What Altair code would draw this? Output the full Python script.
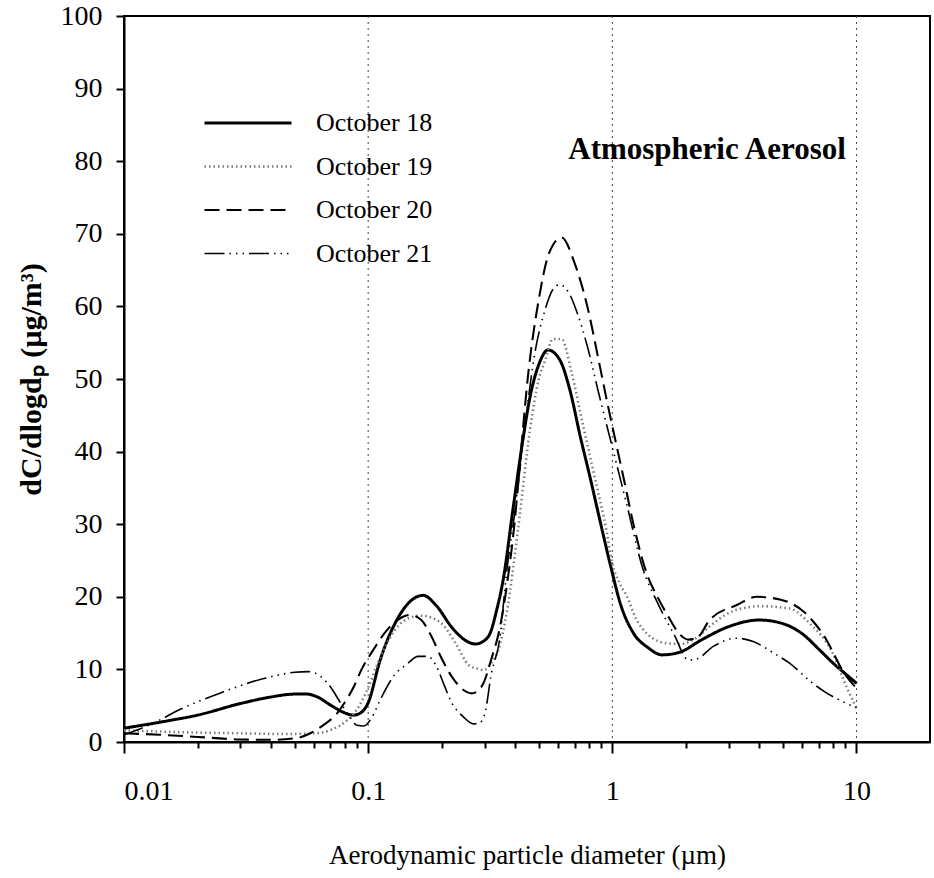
import altair as alt
import pandas as pd

series = ["October 18", "October 19", "October 20", "October 21"]
colors = ["#000000", "#7a7a7a", "#000000", "#000000"]
dashes = [[1, 0], [1.5, 3], [15, 7], [20, 5, 1.5, 5, 1.5, 5, 1.5, 5]]
widths = [3, 1.6, 3, 3]

# October 18 (solid)
x18 = [0.01, 0.015, 0.02, 0.03, 0.04, 0.05, 0.056, 0.062, 0.07, 0.079, 0.087, 0.093, 0.1,
       0.112, 0.131, 0.149, 0.168, 0.19, 0.22, 0.25, 0.275, 0.3, 0.316, 0.335, 0.357, 0.393,
       0.43, 0.46, 0.5, 0.545, 0.61, 0.67, 0.74, 0.81, 0.89, 0.98, 1.08, 1.22, 1.4, 1.6, 1.9,
       2.3, 3.0, 4.0, 5.0, 6.0, 7.1, 8.0, 9.0, 10.0]
y18 = [1.9, 2.9, 3.7, 5.3, 6.2, 6.6, 6.6, 6.2, 5.1, 4.1, 3.7, 4.0, 5.4,
       11.3, 16.8, 19.4, 20.2, 18.8, 15.8, 14.0, 13.5, 14.0, 15.0, 18.0, 22.3, 32.4,
       41.6, 47.5, 52.0, 54.0, 52.6, 48.5, 42.0, 36.5, 30.5, 24.5, 19.0, 15.0, 13.0, 12.0, 12.4,
       14.0, 15.9, 16.8, 16.3, 14.9, 12.6, 10.9, 9.4, 8.1]

# October 19 (dotted)
x19 = [0.01, 0.02, 0.03, 0.045, 0.06, 0.072, 0.082, 0.092, 0.1, 0.11, 0.125, 0.145, 0.165,
       0.197, 0.228, 0.258, 0.28, 0.297, 0.325, 0.34, 0.37, 0.41, 0.46, 0.5, 0.53, 0.57, 0.62,
       0.68, 0.76, 0.84, 0.95, 1.0, 1.07, 1.15, 1.25, 1.4, 1.67, 1.9, 2.2, 2.5, 2.9, 3.5, 4.05,
       5.3, 6.4, 8.0, 9.1, 10.0]
y19 = [1.6, 1.3, 1.2, 1.1, 1.2, 1.8, 3.0, 5.0, 7.5, 11.0, 14.8, 17.0, 17.4,
       16.5, 13.6, 10.6, 10.1, 9.9, 11.3, 12.5, 18.0, 29.0, 43.0, 50.0, 52.5, 55.5, 55.5,
       51.0, 43.5, 37.0, 28.8, 24.6, 21.9, 20.0, 17.0, 14.8, 13.6, 13.5, 14.3, 15.9, 17.5, 18.5, 18.7,
       18.4, 16.4, 12.2, 7.6, 4.7]

# October 20 (dashed)
x20 = [0.01, 0.014, 0.02, 0.03, 0.04, 0.05, 0.058, 0.066, 0.074, 0.08, 0.087, 0.094, 0.105,
       0.118, 0.132, 0.148, 0.165, 0.18, 0.2, 0.22, 0.245, 0.265, 0.285, 0.3, 0.32, 0.345,
       0.37, 0.4, 0.42, 0.45, 0.5, 0.55, 0.62, 0.7, 0.79, 0.88, 0.95, 1.0, 1.11, 1.23, 1.39, 1.53,
       1.7, 1.85, 2.05, 2.25, 2.5, 3.25, 3.9, 4.9, 6.1, 7.4, 8.9, 10.0]
y20 = [1.2, 1.0, 0.7, 0.35, 0.3, 0.5, 1.2, 2.4, 3.8, 5.4, 7.5, 10.0, 12.7,
       15.2, 16.8, 17.5, 16.8, 14.8, 11.5, 9.0, 7.2, 6.7, 7.2, 8.5, 11.5, 15.5,
       21.6, 31.0, 39.0, 50.0, 61.0, 67.3, 69.5, 66.0, 60.0, 52.5, 47.0, 43.5, 36.5, 29.5, 23.0, 20.0,
       17.2, 15.2, 14.1, 14.5, 16.8, 18.9, 20.0, 19.6, 17.9, 14.5, 9.5, 7.4]

# October 21 (dash-dot-dot)
x21 = [0.01, 0.013, 0.017, 0.025, 0.037, 0.05, 0.057, 0.064, 0.07, 0.077, 0.084, 0.09, 0.096,
       0.104, 0.112, 0.128, 0.145, 0.16, 0.175, 0.19, 0.205, 0.22, 0.245, 0.27, 0.285, 0.3,
       0.32, 0.345, 0.37, 0.4, 0.43, 0.48, 0.53, 0.57, 0.61, 0.66, 0.72, 0.79, 0.88, 1.0, 1.15,
       1.33, 1.53, 1.79, 2.05, 2.2, 2.6, 3.2, 3.8, 4.6, 5.3, 6.5, 7.5, 8.5, 10.0]
y21 = [1.0, 2.5, 4.5, 6.8, 8.7, 9.6, 9.7, 9.0, 7.6, 5.4, 3.5, 2.3, 2.2,
       3.5, 5.8, 9.2, 10.8, 11.8, 11.8, 10.5, 7.8, 5.4, 3.5, 2.5, 2.6, 3.8,
       9.5, 14.0, 23.7, 32.0, 41.0, 53.3, 59.5, 62.3, 63.0, 62.0, 59.0, 54.5, 48.0, 40.6, 32.5,
       24.0, 19.2, 14.8, 11.3, 11.4, 13.2, 14.3, 13.8, 12.2, 10.9, 8.3, 6.8, 5.8, 4.7]

major_ticks = [0.01, 0.1, 1, 10]
minor_ticks = [0.02, 0.03, 0.04, 0.05, 0.06, 0.07, 0.08, 0.09,
               0.2, 0.3, 0.4, 0.5, 0.6, 0.7, 0.8, 0.9,
               2, 3, 4, 5, 6, 7, 8, 9]
grid_lines = [0.1, 1, 10]
y_ticks = [0, 10, 20, 30, 40, 50, 60, 70, 80, 90, 100]

rows = []
for name, xs, ys in zip(series, [x18, x19, x20, x21], [y18, y19, y20, y21]):
    for a, b in zip(xs, ys):
        rows.append({"series": name, "d": a, "c": b})
df = pd.DataFrame(rows)

annot = pd.DataFrame({"d": [0.66], "c": [81.5], "t": ["Atmospheric Aerosol"]})
grid_df = pd.DataFrame({"d": grid_lines})

FONT = "Liberation Serif"
xscale = alt.Scale(type="log", domain=[0.01, 20], nice=False)
yscale = alt.Scale(domain=[0, 100], nice=False, zero=False)

legend = alt.Legend(
    title=None, orient="none", legendX=79, legendY=92, symbolType="stroke",
    symbolSize=7569, clipHeight=30, rowPadding=13.5, labelFont=FONT,
    labelFontSize=26, labelColor="black", labelOffset=23, padding=0, labelLimit=400,
)

xaxis = alt.Axis(
    values=major_ticks, title="Aerodynamic particle diameter (µm)", format="~g",
    tickSize=11, grid=False, orient="bottom",
    labelPadding=24, titlePadding=37, labelFontSize=28, titleFontSize=27,
    titleFontWeight="normal",
)
xaxis_minor = alt.Axis(
    values=minor_ticks, title=None, labels=False, tickSize=6, grid=False,
    domain=False, orient="bottom",
)
yaxis = alt.Axis(
    values=y_ticks, title="dC/dlogdₚ (µg/m³)", grid=False, tickSize=8,
    labelPadding=14, titlePadding=14, labelFontSize=28, titleFontSize=30,
    titleFontWeight="bold", orient="left",
)

grid = alt.Chart(grid_df).mark_rule(
    color="#444444", strokeWidth=1, strokeDash=[2, 4]
).encode(
    x=alt.X("d:Q", scale=xscale, axis=xaxis_minor),
)

lines = alt.Chart(df).mark_line(interpolate="monotone").encode(
    x=alt.X("d:Q", scale=xscale, axis=xaxis),
    y=alt.Y("c:Q", scale=yscale, axis=yaxis),
    color=alt.Color("series:N", scale=alt.Scale(domain=series, range=colors), legend=legend),
    strokeDash=alt.StrokeDash("series:N", scale=alt.Scale(domain=series, range=dashes), legend=legend),
    strokeWidth=alt.StrokeWidth("series:N", scale=alt.Scale(domain=series, range=widths), legend=legend),
)

text = alt.Chart(annot).mark_text(
    align="left", baseline="middle", font=FONT, fontSize=31, fontWeight="bold", color="black"
).encode(
    x=alt.X("d:Q", scale=xscale, axis=None),
    y=alt.Y("c:Q", scale=yscale, axis=yaxis),
    text="t:N",
)

chart = alt.layer(grid, lines, text).resolve_axis(x="independent").properties(
    width=806, height=726,
    autosize=alt.AutoSizeParams(type="none"),
    padding={"left": 124, "top": 16, "right": 4, "bottom": 136},
).configure_view(
    stroke="black", strokeWidth=2
).configure_axis(
    domainColor="black", domainWidth=2, tickColor="black", tickWidth=2,
    labelColor="black", titleColor="black", labelFont=FONT, titleFont=FONT,
)

chart.save("out.html", embed_options={"renderer": "svg", "actions": False})
